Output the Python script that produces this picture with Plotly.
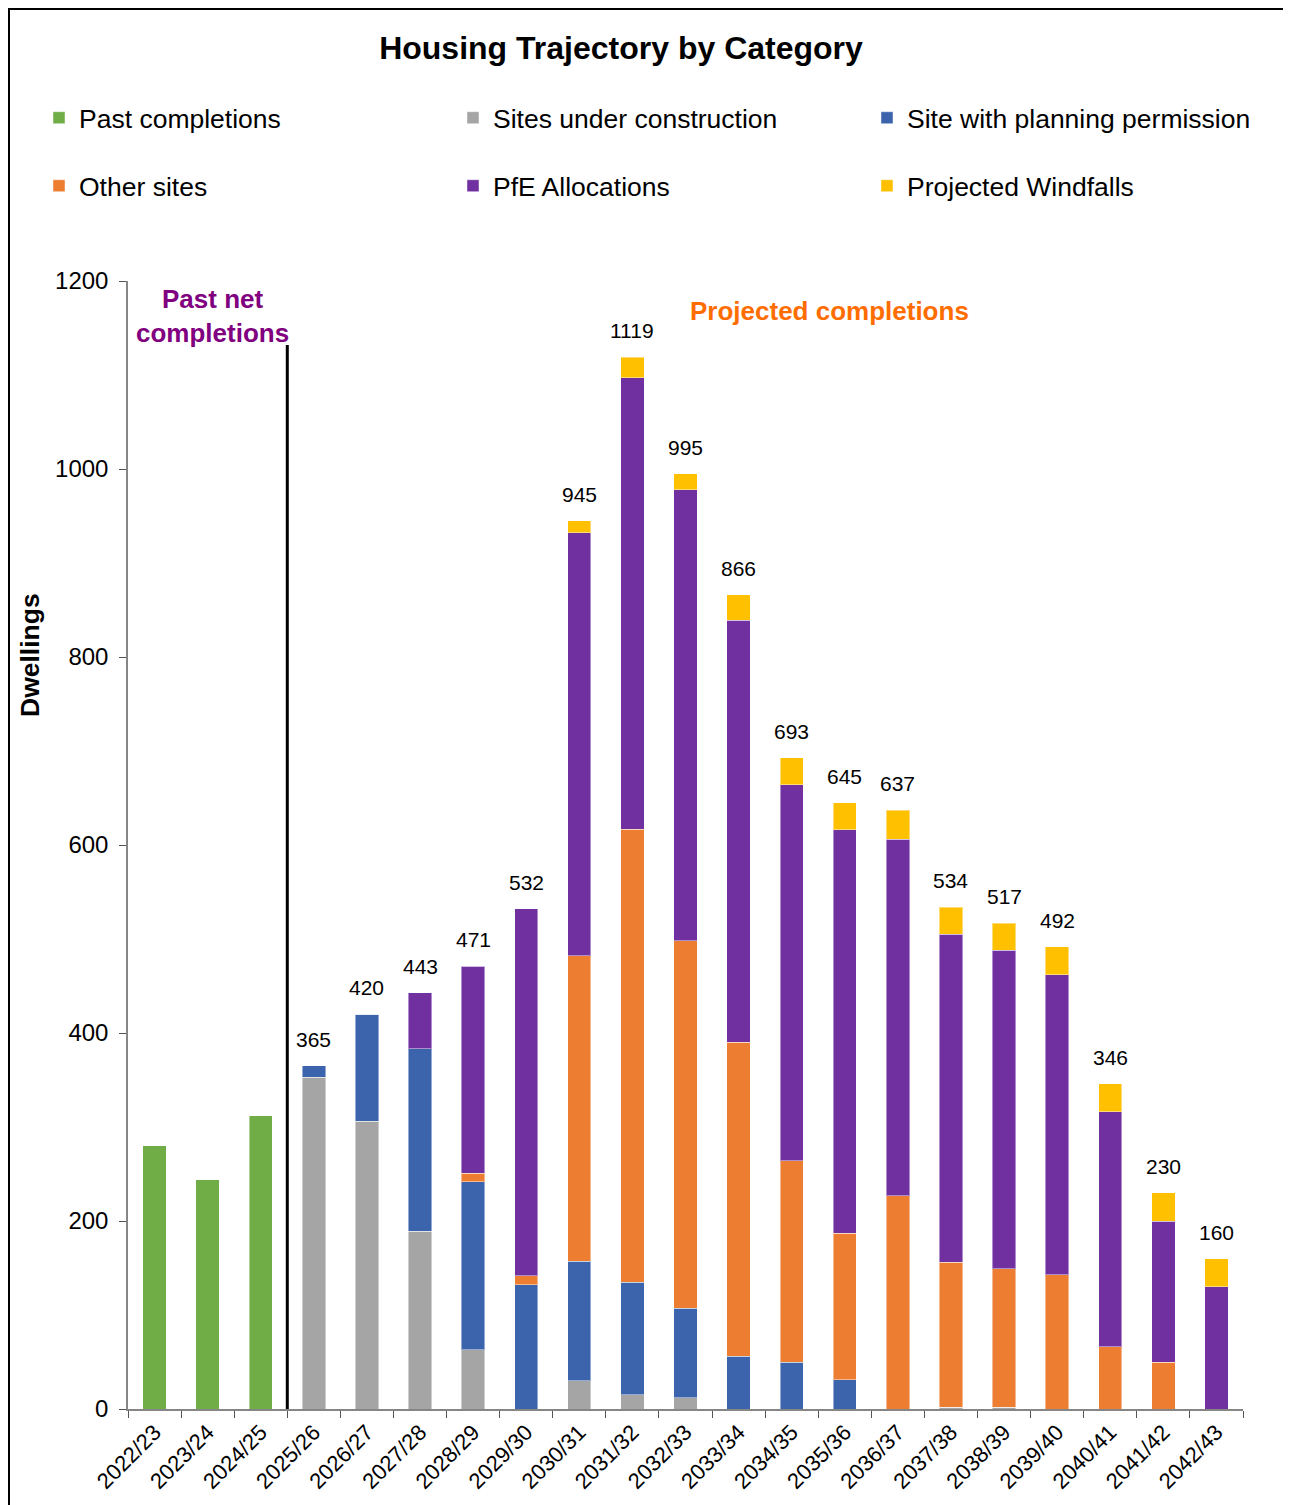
import plotly.graph_objects as go

years = ["2022/23", "2023/24", "2024/25", "2025/26", "2026/27", "2027/28", "2028/29",
         "2029/30", "2030/31", "2031/32", "2032/33", "2033/34", "2034/35", "2035/36",
         "2036/37", "2037/38", "2038/39", "2039/40", "2040/41", "2041/42", "2042/43"]

past_completions = [280, 244, 312, 0, 0, 0, 0, 0, 0, 0, 0, 0, 0, 0, 0, 0, 0, 0, 0, 0, 0]
under_construction = [0, 0, 0, 353, 306, 189, 63, 0, 30, 15, 12, 0, 0, 0, 0, 2, 2, 0, 0, 0, 0]
planning_permission = [0, 0, 0, 12, 114, 194, 179, 132, 127, 120, 95, 56, 50, 31, 0, 0, 0, 0, 0, 0, 0]
other_sites = [0, 0, 0, 0, 0, 0, 9, 10, 325, 482, 391, 334, 214, 156, 227, 154, 147, 143, 66, 50, 0]
pfe_allocations = [0, 0, 0, 0, 0, 60, 220, 390, 450, 480, 480, 449, 400, 429, 379, 349, 339, 319, 250, 150, 130]
windfalls = [0, 0, 0, 0, 0, 0, 0, 0, 13, 22, 17, 27, 29, 29, 31, 29, 29, 30, 30, 30, 30]

total_years = years[3:]
total_labels = [365, 420, 443, 471, 532, 945, 1119, 995, 866, 693, 645, 637, 534, 517, 492, 346, 230, 160]

series_names = ["Past completions", "Sites under construction", "Site with planning permission",
                "Other sites", "PfE Allocations", "Projected Windfalls"]
series_values = [past_completions, under_construction, planning_permission,
                 other_sites, pfe_allocations, windfalls]
series_colors = ["#70AD47", "#A5A5A5", "#3C64AD", "#ED7D31", "#7030A0", "#FFC000"]

FONT = "Liberation Sans, Arial, sans-serif"

W, H = 1280, 1500
L, R, T, B = 120, 45, 273, 99
PW = W - L - R          # 1115
PH = H - T - B          # 1128


def px_x(p):            # figure pixel -> paper x
    return (p - L) / PW


def px_y(p):            # figure pixel (from top) -> paper y
    return (H - B - p) / PH


fig = go.Figure()
legend_keys = ["legend", "legend2", "legend3", "legend4", "legend5", "legend6"]
for name, vals, col, lg in zip(series_names, series_values, series_colors, legend_keys):
    fig.add_trace(go.Bar(
        x=years, y=vals, name=name, marker_color=col,
        marker_line=dict(width=1, color="rgba(255,255,255,0.45)"),
        legend=lg, showlegend=True,
    ))

annotations = []
for yr, t in zip(total_years, total_labels):
    annotations.append(dict(x=yr, y=t, xref="x", yref="y", text=str(t), showarrow=False,
                            yanchor="bottom", yshift=13, font=dict(size=21, color="black", family=FONT)))

annotations += [
    dict(x=1.1, y=1163, xref="x", yref="y", text="<b>Past net<br>completions</b>", showarrow=False,
         font=dict(size=26, color="#800080", family=FONT), align="center"),
    dict(x=12.72, y=1168, xref="x", yref="y", text="<b>Projected completions</b>", showarrow=False,
         font=dict(size=26, color="#FF6D00", family=FONT)),
    dict(x=px_x(22), y=px_y(647), xref="paper", yref="paper", xanchor="center", yanchor="middle",
         text="<b>Dwellings</b>", textangle=-90, showarrow=False,
         font=dict(size=26.5, color="black", family=FONT)),
]

shapes = [
    dict(type="line", xref="x", yref="y", x0=2.5, x1=2.5, y0=0, y1=1132,
         line=dict(color="black", width=3)),
    dict(type="rect", xref="paper", yref="paper",
         x0=px_x(1), x1=px_x(W - 1), y0=px_y(H + 5), y1=px_y(1),
         line=dict(color="black", width=2)),
]

legend_layout = {}
leg_x = [31, 445, 859, 31, 445, 859]
leg_y = [110, 110, 110, 178, 178, 178]
for key, lx, ly in zip(legend_keys, leg_x, leg_y):
    legend_layout[key] = dict(orientation="h", x=px_x(lx), y=px_y(ly), xanchor="left", yanchor="middle",
                              font=dict(size=26.5, family=FONT, color="black"),
                              bgcolor="rgba(0,0,0,0)", itemclick=False, visible=True)

fig.update_layout(
    width=W, height=H,
    margin=dict(l=L, r=R, t=T, b=B),
    paper_bgcolor="white", plot_bgcolor="white",
    barmode="stack", bargap=0.56,
    showlegend=True,
    font=dict(family=FONT, color="black"),
    title=dict(text="<b>Housing Trajectory by Category</b>", x=(621 - 8) / W, xref="container",
               xanchor="center", y=1 - 40 / H, yref="container", yanchor="middle",
               font=dict(size=32, family=FONT, color="black")),
    annotations=annotations,
    shapes=shapes,
    xaxis=dict(type="category", tickangle=-45, showline=True, linecolor="#868686", linewidth=1.5,
               ticks="outside", tickson="boundaries", ticklen=7, tickcolor="#555555",
               tickfont=dict(size=22, family=FONT, color="black"), showgrid=False),
    yaxis=dict(range=[0, 1200], dtick=200, showline=True, linecolor="#868686", linewidth=1.5,
               ticks="outside", ticklen=7, tickcolor="#555555", showgrid=False, zeroline=False,
               ticklabelstandoff=6,
               tickfont=dict(size=24, family=FONT, color="black")),
    **legend_layout,
)

fig.write_html("out.html")
